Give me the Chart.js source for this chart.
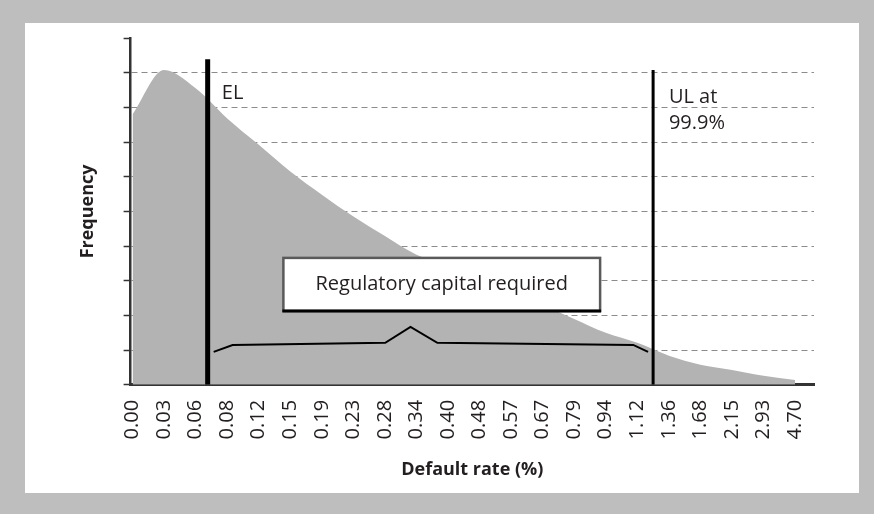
<!DOCTYPE html>
<html>
<head>
<meta charset="utf-8">
<script src="https://cdn.jsdelivr.net/npm/chart.js@4"></script>
<style>
html,body{margin:0;padding:0;}
body{width:874px;height:514px;background:#bebebe;position:relative;overflow:hidden;}
#frame{position:absolute;left:25px;top:23px;width:834px;height:470px;background:#fff;}
#rateChart{display:block;}
</style>
</head>
<body>
<div id="frame"><canvas id="rateChart" width="834" height="470"></canvas></div>
<script>

/* default rate buckets (x axis) */
var rateLabels=['0.00','0.03','0.06','0.08','0.12','0.15','0.19','0.23','0.28','0.34','0.40','0.48','0.57','0.67','0.79','0.94','1.12','1.36','1.68','2.15','2.93','4.70'];

/* loss distribution height for each bucket */
var frequency=[7.8,9.08,8.55,7.68,6.92,6.15,5.48,4.85,4.29,3.75,3.43,3.05,2.68,2.3,1.9,1.5,1.21,0.84,0.58,0.43,0.26,0.14];

/* expected loss and unexpected loss markers (bucket position, line top) */
var elRate=2.38, elTop=9.39;
var ulRate=16.5, ulTop=9.08;

/* brace between EL and UL */
var braceX=[2.57,3.17,8.01,8.81,9.66,15.87,16.34];
var braceY=[0.95,1.15,1.21,1.67,1.21,1.15,0.95];

var yTicks=[0,1,2,3,4,5,6,7,8,9,10];

var textColor='#231f20';
var fontName='"Open Sans", "Noto Sans", sans-serif';

function pts(xs,ys){
return xs.map(function(x,i){ return {x:x,y:ys[i]}; });
}

/* text box and labels */
var notes={
id:'notes',
afterDraw:function(chart){
var c=chart.ctx;
var x=chart.scales.x, y=chart.scales.y;

// regulatory capital box
var l=x.getPixelForValue(4.78), r=x.getPixelForValue(14.82);
var t=y.getPixelForValue(3.66), b=y.getPixelForValue(2.13);
c.save();
c.fillStyle='#fff';
c.fillRect(l,t,r-l,b-t);
c.strokeStyle='#5a5a5a';
c.lineWidth=2.5;
c.strokeRect(l,t,r-l,b-t);
c.strokeStyle='#000';
c.lineWidth=3;
c.beginPath();
c.moveTo(l-1,b);
c.lineTo(r+1,b);
c.stroke();

c.fillStyle=textColor;
c.font='20px '+fontName;
c.textAlign='center';
c.textBaseline='middle';
c.fillText('Regulatory capital required',(l+r)/2,(t+b)/2);

c.textAlign='left';
c.fillText('EL',x.getPixelForValue(elRate+0.45),y.getPixelForValue(8.41));
c.fillText('UL at',x.getPixelForValue(ulRate+0.5),y.getPixelForValue(8.3));
c.fillText('99.9%',x.getPixelForValue(ulRate+0.5),y.getPixelForValue(7.55));
c.restore();
}
};

var ctx=document.getElementById('rateChart');

new Chart(ctx,{
type:'line',
data:{
datasets:[
{
label:'EL',
data:pts([elRate,elRate],[0,elTop]),
borderColor:'#000',
borderWidth:5,
pointRadius:0
},
{
label:'UL',
data:pts([ulRate,ulRate],[0,ulTop]),
borderColor:'#000',
borderWidth:3,
pointRadius:0
},
{
label:'brace',
data:pts(braceX,braceY),
borderColor:'#000',
borderWidth:2,
pointRadius:0,
tension:0
},
{
label:'Frequency',
data:frequency.map(function(v,i){ return {x:i,y:v}; }),
fill:'origin',
backgroundColor:'#b3b3b3',
borderWidth:0,
pointRadius:0,
cubicInterpolationMode:'monotone'
}
]
},
options:{
responsive:false,
animation:false,
events:[],
layout:{padding:{left:52,right:45,top:15,bottom:8}},
plugins:{
legend:{display:false},
tooltip:{enabled:false}
},
scales:{
x:{
type:'linear',
min:-0.063,
max:21.6,
afterBuildTicks:function(scale){
scale.ticks=rateLabels.map(function(_,i){ return {value:i}; });
},
ticks:{
minRotation:90,
maxRotation:90,
padding:15,
color:textColor,
font:{family:fontName,size:20},
callback:function(v){ return rateLabels[v]; }
},
grid:{display:false,drawTicks:false},
border:{display:true,color:'#333',width:3},
title:{
display:true,
text:'Default rate (%)',
color:textColor,
font:{family:fontName,size:18,weight:'bold'},
padding:{top:5,bottom:4}
}
},
y:{
min:0,
max:10,
z:1,
afterBuildTicks:function(scale){
scale.ticks=yTicks.map(function(v){ return {value:v}; });
},
ticks:{display:false},
grid:{
color:function(c){ return (c.tick.value===0||c.tick.value===10)?'rgba(0,0,0,0)':'#8c8c8c'; },
tickColor:'#333',
tickBorderDash:[],
tickLength:7,
tickWidth:1.5,
lineWidth:1
},
border:{display:true,color:'#333',width:2.5,dash:[6,4]},
title:{
display:true,
text:'Frequency',
color:textColor,
font:{family:fontName,size:18,weight:'bold'},
padding:{top:0,bottom:25}
}
}
}
},
plugins:[notes]
});

</script>
</body>
</html>
